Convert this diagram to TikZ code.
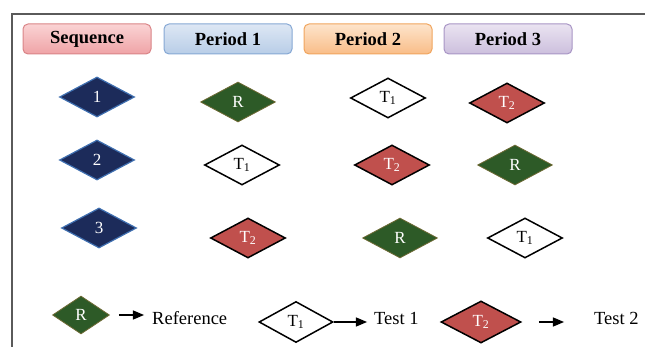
\documentclass[tikz,border=0pt]{standalone}
\usepackage{fontspec}
\setmainfont{Liberation Serif}
\usepackage{tikz}
\usetikzlibrary{arrows}
\usetikzlibrary{shapes}
\usepackage{xcolor}
\definecolor{seqfill}{HTML}{1C2B5A}
\definecolor{seqline}{HTML}{3F6FB0}
\definecolor{reffill}{HTML}{2D5A27}
\definecolor{refline}{HTML}{6E6A35}
\definecolor{twored}{HTML}{C0504D}
\definecolor{frameline}{HTML}{5A5A5A}
\definecolor{pinktop}{HTML}{FAD3D4}
\definecolor{pinkbot}{HTML}{EFA3A6}
\definecolor{pinkline}{HTML}{D98487}
\definecolor{bluetop}{HTML}{DDE7F4}
\definecolor{bluebot}{HTML}{B8CDE7}
\definecolor{blueline}{HTML}{86A8D4}
\definecolor{orangetop}{HTML}{FDE4CB}
\definecolor{orangebot}{HTML}{F9BD88}
\definecolor{orangeline}{HTML}{F0A55E}
\definecolor{lilactop}{HTML}{EAE3F1}
\definecolor{lilacbot}{HTML}{CCBFDD}
\definecolor{lilacline}{HTML}{A895C5}

\begin{document}
\begin{tikzpicture}[x=1pt,y=-1pt,
        head/.style={rounded corners=5pt, line width=1pt, minimum width=128pt,
            minimum height=30pt, font=\fontsize{18.5}{20}\selectfont\bfseries},
        gem/.style={diamond, inner sep=0pt, minimum width=75pt, minimum height=40pt,
            font=\fontsize{17}{18}\selectfont},
        seqgem/.style={gem, fill=seqfill, draw=seqline, line width=1.2pt, text=white},
        refgem/.style={gem, fill=reffill, draw=refline, line width=0.8pt, text=white},
        onegem/.style={gem, fill=white, draw=black, line width=1.5pt},
        twogem/.style={gem, fill=twored, draw=black, line width=1.5pt, text=white},
        keylabel/.style={anchor=west, inner sep=0pt, font=\fontsize{18.5}{20}\selectfont},
        keyarrow/.style={-triangle 45, line width=1.6pt}]
                \useasboundingbox (0,0) rectangle (645,347);
                \draw[frameline, line width=1.5pt] (12,347) -- (12,14) -- (645,14);
                \node[head, top color=pinktop, bottom color=pinkbot, draw=pinkline] (hseq) at (87,39) {Sequence};
                \node[head, top color=bluetop, bottom color=bluebot, draw=blueline] (hone) at (228,39) {Period 1};
                \node[head, top color=orangetop, bottom color=orangebot, draw=orangeline] (htwo) at (368,39) {Period 2};
                \node[head, top color=lilactop, bottom color=lilacbot, draw=lilacline] (hthree) at (508,39) {Period 3};
                \node[seqgem] (s1) at (97,97) {1};
                \node[seqgem] (s2) at (97,160) {2};
                \node[seqgem] (s3) at (99,228) {3};
                \node[refgem] (a1) at (238,102) {R};
                \node[onegem] (a2) at (242,165) {T\textsubscript{1}};
                \node[twogem] (a3) at (248,238) {T\textsubscript{2}};
                \node[onegem] (b1) at (388,98) {T\textsubscript{1}};
                \node[twogem] (b2) at (392,165) {T\textsubscript{2}};
                \node[refgem] (b3) at (400,238) {R};
                \node[twogem] (c1) at (507,103) {T\textsubscript{2}};
                \node[refgem] (c2) at (515,165) {R};
                \node[onegem] (c3) at (525,238) {T\textsubscript{1}};
                \node[refgem, minimum width=57pt, minimum height=38pt] (kref) at (81,315) {R};
                \node[keylabel] (kreflab) at (152,318) {Reference};
                \node[onegem, minimum width=74pt, minimum height=41pt] (kone) at (296,322) {T\textsubscript{1}};
                \node[keylabel] (konelab) at (374,318) {Test 1};
                \node[twogem, minimum width=80pt, minimum height=42pt] (ktwo) at (481,322) {T\textsubscript{2}};
                \node[keylabel] (ktwolab) at (594,318) {Test 2};
                \draw[keyarrow, shorten <=9pt, shorten >=8pt] (kref.east) -- (kreflab.west |- kref.east);
                \draw[keyarrow, shorten >=7pt] (kone.east) -- (konelab.west |- kone.east);
                \draw[keyarrow, shorten <=17pt, shorten >=30pt] (ktwo.east) -- (ktwolab.west |- ktwo.east);
            \end{tikzpicture}
\end{document}
